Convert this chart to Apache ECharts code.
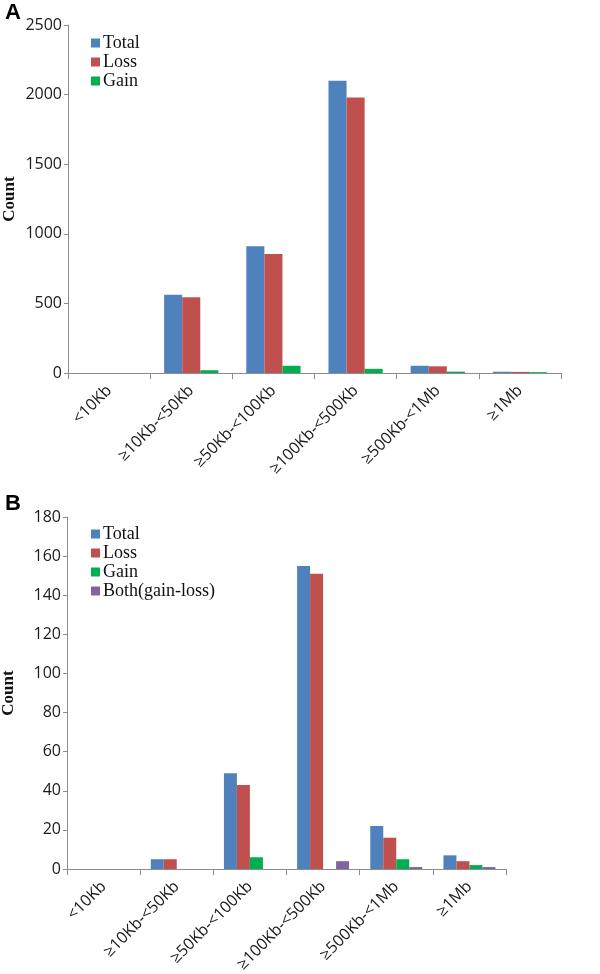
<!DOCTYPE html>
<html><head><meta charset="utf-8">
<script src="https://cdn.jsdelivr.net/npm/echarts@6/dist/echarts.min.js"></script>
<style>html,body{margin:0;padding:0;background:#fff}#c{width:600px;height:974px}</style>
</head><body><div id="c"></div>
<script>
const categories = ['<10Kb','≥10Kb-<50Kb','≥50Kb-<100Kb','≥100Kb-<500Kb','≥500Kb-<1Mb','≥1Mb'];
const aTotal = [0, 562, 910, 2100, 52, 9];
const aLoss  = [0, 545, 855, 1980, 48, 8];
const aGain  = [0, 20, 52, 30, 10, 6];
const bTotal = [0, 5, 49, 155, 22, 7];
const bLoss  = [0, 5, 43, 151, 16, 4];
const bGain  = [0, 0, 6, 0, 5, 2];
const bBoth  = [0, 0, 0, 4, 1, 1];
const aTicks = {min: 0, max: 2500, interval: 500};
const bTicks = {min: 0, max: 180, interval: 20};

const colors = {Total:'#4F81BD', Loss:'#C0504D', Gain:'#00B050', 'Both(gain-loss)':'#8064A2'};
const axisGray = '#8c8c8c';
const sansFont = 'Open Sans';

function xAxis(gi){
  return {type:'category', gridIndex:gi, data:categories,
    axisLine:{lineStyle:{color:axisGray}},
    axisTick:{show:true, length:6, lineStyle:{color:axisGray}},
    axisLabel:{rotate:45, interval:0, fontSize:16, color:'#1a1a1a', fontFamily:sansFont, margin:15, padding:[14,0,0,0]}};
}
function yAxis(gi, t){
  return {type:'value', gridIndex:gi, min:t.min, max:t.max, interval:t.interval,
    name:'Count', nameLocation:'middle', nameGap:50, nameRotate:90, nameMoveOverlap:false,
    nameTextStyle:{fontFamily:'Liberation Serif', fontWeight:'bold', fontSize:17, color:'#111'},
    axisLine:{show:true, lineStyle:{color:axisGray}},
    axisTick:{show:true, length:4, lineStyle:{color:axisGray}},
    splitLine:{show:false},
    axisLabel:{fontSize:16, color:'#1a1a1a', fontFamily:sansFont, margin:6, formatter:(v)=>String(v)}};
}
function bar(name, data, gi, catGap){
  return {type:'bar', name, data, xAxisIndex:gi, yAxisIndex:gi,
    itemStyle:{color:colors[name]}, barGap:'0%', barCategoryGap:catGap, animation:false};
}
const legendStyle = {orient:'vertical', left:86, itemWidth:9, itemHeight:9, itemGap:1, icon:'rect',
  textStyle:{fontFamily:'Liberation Serif', fontSize:18, color:'#111', padding:[0,0,0,-2]}};

const chart = echarts.init(document.getElementById('c'), null, {renderer:'canvas'});
chart.setOption({
  animation:false,
  title:[
    {text:'A', left:0, top:-3, textStyle:{fontFamily:'Liberation Sans', fontWeight:'bold', fontSize:22, color:'#000'}},
    {text:'B', left:0, top:488, textStyle:{fontFamily:'Liberation Sans', fontWeight:'bold', fontSize:22, color:'#000'}}
  ],
  legend:[
    Object.assign({}, legendStyle, {top:29, data:['Total','Loss','Gain']}),
    Object.assign({}, legendStyle, {top:520, data:['Total','Loss','Gain','Both(gain-loss)']})
  ],
  grid:[
    {left:68, top:25, width:493, height:348, containLabel:false, outerBoundsMode:'none'},
    {left:67, top:517, width:439, height:352, containLabel:false, outerBoundsMode:'none'}
  ],
  xAxis:[xAxis(0), xAxis(1)],
  yAxis:[yAxis(0, aTicks), yAxis(1, bTicks)],
  series:[
    bar('Total', aTotal, 0, '34%'),
    bar('Loss', aLoss, 0, '34%'),
    bar('Gain', aGain, 0, '34%'),
    bar('Total', bTotal, 1, '29%'),
    bar('Loss', bLoss, 1, '29%'),
    bar('Gain', bGain, 1, '29%'),
    bar('Both(gain-loss)', bBoth, 1, '29%')
  ]
});
</script></body></html>
